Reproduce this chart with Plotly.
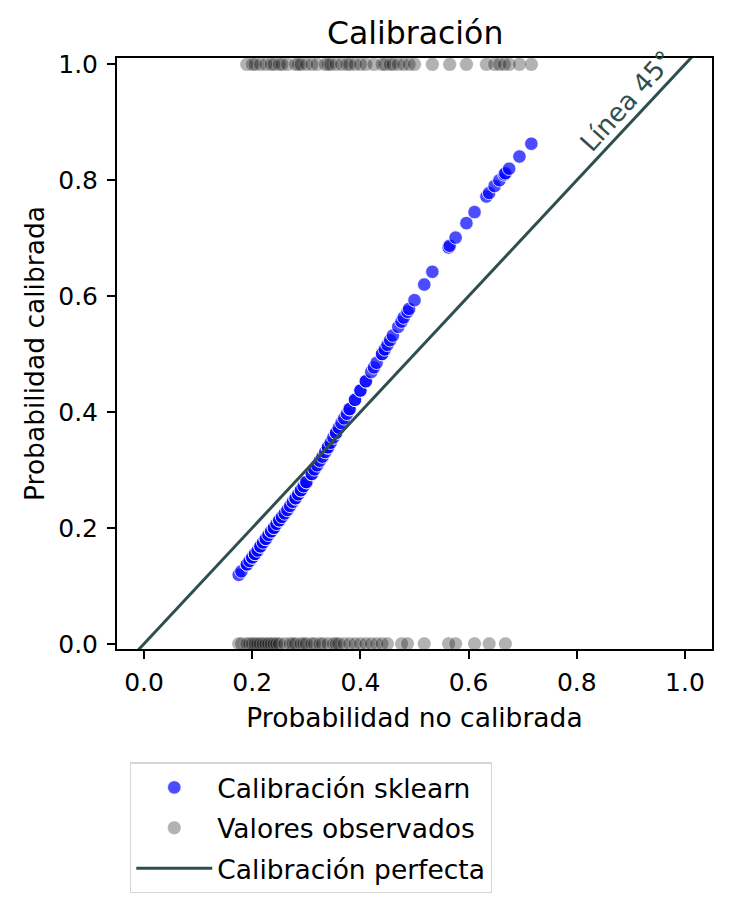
import plotly.graph_objects as go

# Probabilidad sin calibrar (eje x), probabilidad calibrada y valor observado (0/1)
prob_sin_calibrar = [
    0.175, 0.180, 0.190, 0.190, 0.195, 0.200, 0.200, 0.205, 0.205, 0.210,
    0.215, 0.215, 0.220, 0.225, 0.225, 0.230, 0.235, 0.235, 0.240, 0.240,
    0.245, 0.250, 0.250, 0.255, 0.260, 0.265, 0.270, 0.275, 0.280, 0.280,
    0.285, 0.290, 0.290, 0.295, 0.300, 0.300, 0.310, 0.310, 0.315, 0.320,
    0.325, 0.330, 0.335, 0.340, 0.340, 0.345, 0.350, 0.355, 0.355, 0.360,
    0.365, 0.370, 0.375, 0.380, 0.380, 0.390, 0.390, 0.400, 0.400, 0.410,
    0.410, 0.420, 0.425, 0.430, 0.440, 0.440, 0.445, 0.450, 0.455, 0.460,
    0.470, 0.476, 0.480, 0.487, 0.490, 0.500, 0.518, 0.533, 0.563, 0.565,
    0.576, 0.596, 0.611, 0.633, 0.638, 0.648, 0.657, 0.666, 0.668, 0.675,
    0.694, 0.716,
]
prob_calibrada = [
    0.119, 0.125, 0.137, 0.137, 0.143, 0.149, 0.149, 0.155, 0.155, 0.161,
    0.168, 0.168, 0.175, 0.181, 0.181, 0.188, 0.194, 0.194, 0.200, 0.200,
    0.207, 0.213, 0.213, 0.219, 0.225, 0.231, 0.238, 0.245, 0.251, 0.251,
    0.258, 0.265, 0.265, 0.272, 0.279, 0.279, 0.293, 0.293, 0.301, 0.308,
    0.316, 0.323, 0.331, 0.339, 0.339, 0.347, 0.356, 0.364, 0.364, 0.373,
    0.381, 0.389, 0.397, 0.405, 0.405, 0.421, 0.421, 0.437, 0.437, 0.453,
    0.453, 0.469, 0.477, 0.485, 0.500, 0.500, 0.508, 0.516, 0.524, 0.532,
    0.547, 0.556, 0.563, 0.573, 0.578, 0.593, 0.620, 0.642, 0.684, 0.687,
    0.701, 0.726, 0.745, 0.772, 0.778, 0.790, 0.800, 0.810, 0.812, 0.820,
    0.841, 0.863,
]
observado = [
    0, 0, 1, 0, 0, 1, 0, 1, 0, 0,
    1, 0, 0, 1, 0, 0, 1, 0, 1, 0,
    0, 1, 0, 1, 0, 1, 0, 0, 1, 0,
    1, 1, 0, 0, 1, 0, 1, 0, 0, 1,
    0, 0, 1, 1, 0, 1, 0, 1, 0, 0,
    1, 0, 1, 1, 0, 1, 0, 1, 0, 1,
    0, 0, 1, 0, 1, 0, 1, 0, 1, 1,
    1, 0, 1, 0, 1, 1, 0, 1, 0, 1,
    0, 1, 0, 1, 0, 1, 1, 1, 0, 1,
    1, 1,
]
diagonal = [-0.05, 1.05]

FONT = "DejaVu Sans"
LINE_COLOR = "#2F4F4F"

fig = go.Figure()

fig.add_trace(go.Scatter(
    x=prob_sin_calibrar, y=prob_calibrada, mode="markers",
    name="Calibración sklearn", legendgroup="a",
    marker=dict(color="rgba(0,0,255,0.7)", size=13.5,
                line=dict(color="white", width=0.8)),
    cliponaxis=False,
))
fig.add_trace(go.Scatter(
    x=prob_sin_calibrar, y=observado, mode="markers",
    name="Valores observados", legendgroup="b",
    marker=dict(color="rgba(0,0,0,0.3)", size=13.5,
                line=dict(color="rgba(255,255,255,0.3)", width=0.8)),
    cliponaxis=False,
))
fig.add_trace(go.Scatter(
    x=diagonal, y=diagonal, mode="lines",
    name="Calibración perfecta", legendgroup="c",
    line=dict(color=LINE_COLOR, width=3),
))

fig.add_annotation(
    x=0.893, y=0.936, xref="x", yref="y", text="Línea 45°",
    showarrow=False, textangle=-48,
    font=dict(family=FONT, size=26, color=LINE_COLOR),
)

axis_common = dict(
    showgrid=False, zeroline=False, showline=True, linecolor="black",
    linewidth=2, mirror=True, ticks="outside", ticklen=8, tickwidth=2,
    tickcolor="black", tickfont=dict(family=FONT, size=25, color="black"),
    tickformat=".1f",
)

fig.update_layout(
    width=731, height=911,
    margin=dict(l=109, r=27, t=50, b=270),
    paper_bgcolor="white", plot_bgcolor="white",
    title=dict(text="Calibración", x=0.557, xanchor="center", y=0.9726,
               yanchor="middle", font=dict(family=FONT, size=31.5, color="black")),
    xaxis=dict(range=[-0.05, 1.05], tickvals=[0, 0.2, 0.4, 0.6, 0.8, 1.0],
               ticklabelstandoff=2,
               title=dict(text="Probabilidad no calibrada", standoff=12,
                          font=dict(family=FONT, size=26.5, color="black")),
               **axis_common),
    yaxis=dict(range=[-0.009, 1.011], tickvals=[0, 0.2, 0.4, 0.6, 0.8, 1.0],
               ticklabelstandoff=4,
               title=dict(text="Probabilidad calibrada", standoff=6,
                          font=dict(family=FONT, size=26.5, color="black")),
               **axis_common),
    showlegend=True,
    legend=dict(
        x=0.022, y=-0.192, xanchor="left", yanchor="top",
        bgcolor="white", bordercolor="#d6d6d6", borderwidth=1.2,
        font=dict(family=FONT, size=26.5, color="black"),
        tracegroupgap=3, itemwidth=76,
    ),
)

fig.write_html("out.html")
